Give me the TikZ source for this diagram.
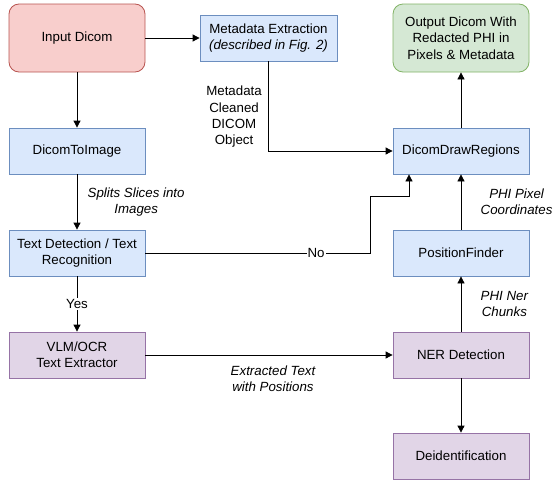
\documentclass[tikz,border=0pt]{standalone}
\usepackage{fontspec}
\setmainfont{Liberation Sans}
\usetikzlibrary{arrows.meta}
\definecolor{redfill}{HTML}{F8CECC}
\definecolor{redline}{HTML}{B85450}
\definecolor{bluefill}{HTML}{DAE8FC}
\definecolor{blueline}{HTML}{6C8EBF}
\definecolor{greenfill}{HTML}{D5E8D4}
\definecolor{greenline}{HTML}{82B366}
\definecolor{purplefill}{HTML}{E1D5E7}
\definecolor{purpleline}{HTML}{9673A6}

\begin{document}
\begin{tikzpicture}[x=1pt, y=-1pt, font=\fontsize{13.3}{16.3}\selectfont,
		box/.style={rectangle,draw,line width=0.8pt,minimum width=136pt,minimum height=46pt,align=center,inner sep=2pt},
		bluebox/.style={box,draw=blueline,fill=bluefill},
		purplebox/.style={box,draw=purpleline,fill=purplefill},
		bigbox/.style={box,rounded corners=10pt,minimum height=68pt},
		arr/.style={-{Triangle[length=7pt,width=7pt]},line width=0.8pt},
		note/.style={font=\fontsize{13.3}{16.3}\selectfont\itshape,align=center}]
		\useasboundingbox (0,0) rectangle (554,482);

		% left column
		\node[bigbox,draw=redline,fill=redfill] (input) at (77,38) {Input Dicom};
		\node[bluebox] (dti) at (77,151) {DicomToImage};
		\node[bluebox] (tdr) at (77,253) {Text Detection / Text\\Recognition};
		\node[purplebox] (vlm) at (77,355) {VLM/OCR\\Text Extractor};

		% middle
		\node[bluebox,minimum width=137pt] (meta) at (268.5,38) {Metadata Extraction\\\textit{(described in Fig. 2)}};
		\coordinate (nobend) at (370,196);

		% right column
		\node[bigbox,draw=greenline,fill=greenfill] (out) at (461,38) {Output Dicom With\\Redacted PHI in\\Pixels \& Metadata};
		\node[bluebox] (ddr) at (461,151) {DicomDrawRegions};
		\node[bluebox] (pf) at (461,253) {PositionFinder};
		\node[purplebox] (ner) at (461,355) {NER Detection};
		\node[purplebox] (deid) at (461,456) {Deidentification};

		\draw[arr] (input) -- (meta);
		\draw[arr] (input) -- (dti);
		\draw[arr] (dti) -- node[note,right=7pt] {Splits Slices into\\Images} (tdr);
		\draw[arr] (tdr) -- node[fill=white,inner sep=1pt] {Yes} (vlm);
		\draw[arr] (vlm) -- node[note,below=7pt,xshift=4pt] {Extracted Text\\with Positions} (ner);
		\draw[arr] (tdr.east) -| node[pos=0.38,fill=white,inner sep=1pt] {No} (nobend) -| ([xshift=-52pt]ddr.south);
		\draw[arr] (meta.south) |- node[pos=0.31,left=3pt,align=center] {Metadata\\Cleaned\\DICOM\\Object} (ddr.west);
		\draw[arr] (ddr) -- (out);
		\draw[arr] (pf) -- node[note,right=16pt] {PHI Pixel\\Coordinates} (ddr);
		\draw[arr] (ner) -- node[note,right=16pt] {PHI Ner\\Chunks} (pf);
		\draw[arr] (ner) -- (deid);
\end{tikzpicture}
\end{document}
